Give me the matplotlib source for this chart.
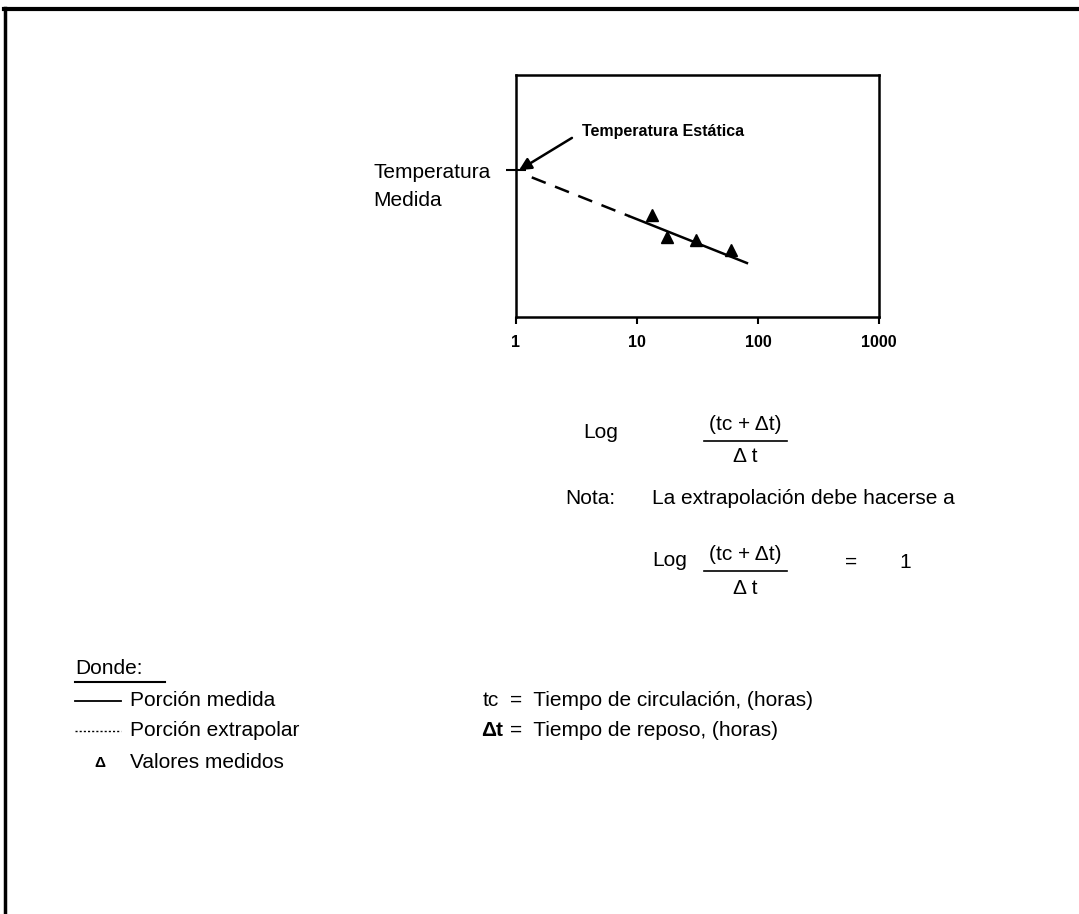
#Temperatura estática - gráfico de Horner
import matplotlib.pyplot as plt
from matplotlib.lines import Line2D

W, H = 1079, 914

# datos
x_ticks = [1, 10, 100, 1000]
x_tick_labels = ["1", "10", "100", "1000"]
medido_x = [13.2, 17.6, 31, 60]
medido_y = [0.42, 0.33, 0.318, 0.277]
extrap_x = [1.35, 8.7]
extrap_y = [0.577, 0.416]
recta_x = [8.7, 81]
recta_y = [0.416, 0.223]
estatica_x = 1.06
estatica_y = 0.607

plt.rcParams["font.family"] = ["Liberation Sans", "DejaVu Sans"]


def px(x, y):
    return x / W, 1 - y / H


def hline(fig, x0, x1, y, lw=1.2, ls="-"):
    a = px(x0, y)
    b = px(x1, y)
    fig.add_artist(Line2D([a[0], b[0]], [a[1], b[1]], color="black", lw=lw, ls=ls))


fig = plt.figure(figsize=(W / 100, H / 100), dpi=100)

# marco de la página
fig.add_artist(Line2D([px(4, 0)[0], 1], [px(0, 9)[1]] * 2, color="black", lw=3))
fig.add_artist(Line2D([px(5, 0)[0]] * 2, [0, px(0, 8)[1]], color="black", lw=2.5))

# gráfico
l, b = px(516, 317)
ax = fig.add_axes([l, b, 363 / W, 242 / H])
ax.set_xscale("log")
ax.set_xlim(1, 1000)
ax.set_ylim(0, 1)
for s in ax.spines.values():
    s.set_linewidth(1.8)

ax.set_xticks(x_ticks)
ax.set_xticklabels(x_tick_labels, fontsize=11.5, fontweight="bold")
ax.xaxis.set_minor_locator(plt.NullLocator())
ax.tick_params(axis="x", direction="out", length=5, width=1.5, pad=8)
ax.set_yticks([estatica_y])
ax.set_yticklabels([])
ax.tick_params(axis="y", direction="inout", length=14, width=1.5)

ax.plot(extrap_x, extrap_y, color="black", lw=1.8, ls=(0, (6, 4)))
ax.plot(recta_x, recta_y, color="black", lw=1.8)
ax.plot(medido_x, medido_y, ls="none", marker="^", color="black", markersize=8)

ax.annotate("Temperatura Estática", xy=(estatica_x, estatica_y), xytext=(3.5, 0.765),
            fontsize=11.5, fontweight="bold", va="center", ha="left",
            arrowprops=dict(arrowstyle="-|>", color="black", lw=1.8,
                            relpos=(0, 0.5), shrinkA=6, shrinkB=0,
                            mutation_scale=18))

# textos
fs = 15
fig.text(*px(373, 172), "Temperatura", fontsize=fs, va="center")
fig.text(*px(373, 201), "Medida", fontsize=fs, va="center")

fig.text(*px(583, 432), "Log", fontsize=fs, va="center")
fig.text(*px(745, 425), "(tc + Δt)", fontsize=fs, va="center", ha="center")
hline(fig, 704, 787, 441)
fig.text(*px(745, 457), "Δ t", fontsize=fs, va="center", ha="center")

fig.text(*px(565, 498), "Nota:", fontsize=fs, va="center")
fig.text(*px(652, 498), "La extrapolación debe hacerse a", fontsize=fs, va="center")

fig.text(*px(652, 561), "Log", fontsize=fs, va="center")
fig.text(*px(745, 555), "(tc + Δt)", fontsize=fs, va="center", ha="center")
hline(fig, 704, 787, 571)
fig.text(*px(745, 589), "Δ t", fontsize=fs, va="center", ha="center")
fig.text(*px(845, 562), "=", fontsize=fs, va="center")
fig.text(*px(899, 562), "1", fontsize=fs, va="center")

fig.text(*px(75, 668), "Donde:", fontsize=fs, va="center")
hline(fig, 75, 165, 682, lw=1.5)

hline(fig, 75, 121, 701, lw=1.3)
fig.text(*px(130, 701), "Porción medida", fontsize=fs, va="center")
hline(fig, 75, 121, 731, lw=1.0, ls=(0, (1.5, 1.5)))
fig.text(*px(130, 731), "Porción extrapolar", fontsize=fs, va="center")
fig.text(*px(100, 763), "Δ", fontsize=11, fontweight="bold", va="center", ha="center")
fig.text(*px(130, 763), "Valores medidos", fontsize=fs, va="center")

fig.text(*px(483, 701), "tc", fontsize=fs, va="center")
fig.text(*px(510, 701), "=  Tiempo de circulación, (horas)", fontsize=fs, va="center")
fig.text(*px(481, 731), "Δt", fontsize=fs, va="center", fontweight="bold")
fig.text(*px(510, 731), "=  Tiempo de reposo, (horas)", fontsize=fs, va="center")

fig.savefig("out.png", dpi=100)
